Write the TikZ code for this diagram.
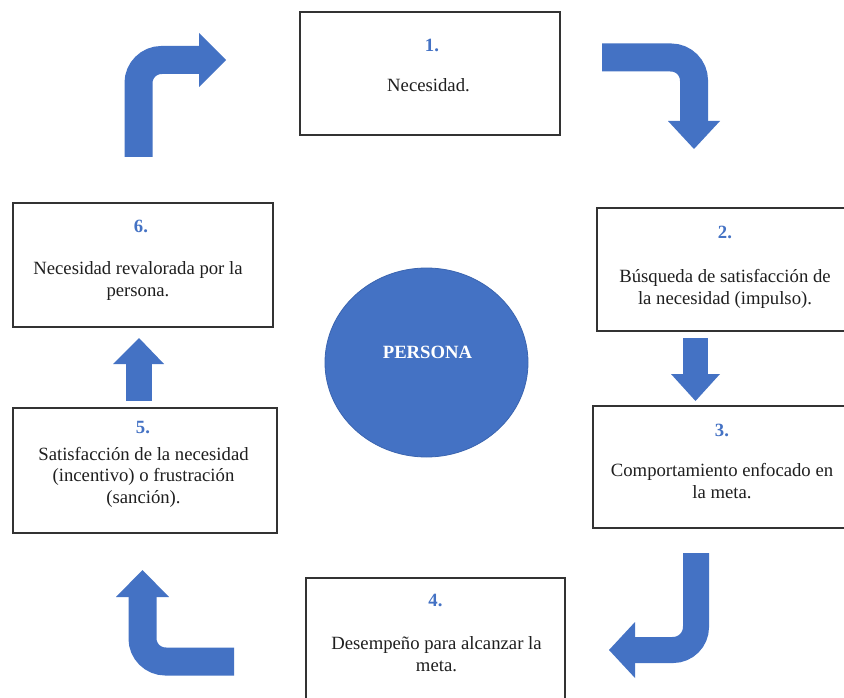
\documentclass[tikz,border=0pt]{standalone}
\usepackage{fontspec}
\setmainfont{Liberation Serif}
\usetikzlibrary{shapes.geometric}
\definecolor{ofblue}{HTML}{4472C4}
\definecolor{edgeblue}{HTML}{3B65B0}
\tikzset{
  stagebox/.style={draw=black!80, line width=1.3pt, rectangle, inner sep=0pt, fill=white},
  numlabel/.style={font=\fontsize{18.7}{21.5}\selectfont\bfseries, text=ofblue, anchor=base, inner sep=0pt},
  bodytext/.style={font=\fontsize{18.7}{21.5}\selectfont, text=black!88, anchor=base, align=center, inner sep=0pt},
  shaft/.style={draw=ofblue, line width=#1, rounded corners=23pt},
  headtip/.style={fill=ofblue, draw=none},
}
\begin{document}
\begin{tikzpicture}[x=1pt,y=-1pt]
\useasboundingbox (0,0) rectangle (844,698);
\clip (0,0) rectangle (844,698);
\fill[white] (0,0) rectangle (844,698);

% boxes
\node[stagebox, minimum width=260pt, minimum height=123pt] (b1) at (430,73.5) {};
\node[stagebox, minimum width=256pt, minimum height=123pt] (b2) at (725,269.5) {};
\node[stagebox, minimum width=260pt, minimum height=122pt] (b3) at (723,467) {};
\node[stagebox, minimum width=259pt, minimum height=124pt] (b4) at (435.5,640) {};
\node[stagebox, minimum width=264pt, minimum height=125pt] (b5) at (145,470.5) {};
\node[stagebox, minimum width=260pt, minimum height=124pt] (b6) at (143,265) {};

% centre
\node[ellipse, fill=ofblue, draw=edgeblue, line width=0.8pt, minimum width=203pt, minimum height=189pt, inner sep=0pt] (p) at (426.5,362.5) {};
\node[font=\fontsize{18.7}{21.5}\selectfont\bfseries, text=white, anchor=base, inner sep=0pt] (pl) at (427.5,358) {PERSONA};

% texts (base anchor = baseline of the last line)
\node[numlabel] (n1) at (432,52) {1.};
\node[bodytext] (t1) at (428.5,92) {Necesidad.};
\node[numlabel] (n2) at (725,238) {2.};
\node[bodytext] (t2) at (725,304) {Búsqueda de satisfacción de\\la necesidad (impulso).};
\node[numlabel] (n3) at (722,436) {3.};
\node[bodytext] (t3) at (722,498) {Comportamiento enfocado en\\la meta.};
\node[numlabel] (n4) at (435.5,606) {4.};
\node[bodytext] (t4) at (436.5,671) {Desempeño para alcanzar la\\meta.};
\node[numlabel] (n5) at (143,433) {5.};
\node[bodytext] (t5) at (143.5,503) {Satisfacción de la necesidad\\(incentivo) o frustración\\(sanción).};
\node[numlabel] (n6) at (141,233) {6.};
\node[bodytext] (t6) at (138,296) {Necesidad revalorada por la\\persona.};

% arrows: 6 -> 1
\coordinate (a61s) at (138.5,157);
\coordinate (a61c) at (138.5,60);
\coordinate (a61e) at (200,60);
\draw[shaft=28pt] (a61s) -- (a61c) -- (a61e);
\fill[headtip] (199,33) -- (226,60) -- (199,87) -- cycle;

% 1 -> 2
\coordinate (a12s) at (602,57.5);
\coordinate (a12c) at (694,57.5);
\coordinate (a12e) at (694,122);
\draw[shaft=28pt] (a12s) -- (a12c) -- (a12e);
\fill[headtip] (668,121) -- (694,149) -- (720,121) -- cycle;

% 2 -> 3
\coordinate (a23s) at (695.5,338);
\coordinate (a23e) at (695.5,375);
\draw[shaft=25pt] (a23s) -- (a23e);
\fill[headtip] (671,374) -- (695.5,401) -- (720,374) -- cycle;

% 3 -> 4
\coordinate (a34s) at (696,553);
\coordinate (a34c) at (696,650);
\coordinate (a34e) at (634,650);
\draw[shaft=26pt] (a34s) -- (a34c) -- (a34e);
\fill[headtip] (635,622) -- (609,650) -- (635,678) -- cycle;

% 4 -> 5
\coordinate (a45s) at (234,661.5);
\coordinate (a45c) at (142.5,661.5);
\coordinate (a45e) at (142.5,596);
\draw[shaft=28pt] (a45s) -- (a45c) -- (a45e);
\fill[headtip] (116,597) -- (142.5,570) -- (169,597) -- cycle;

% 5 -> 6
\coordinate (a56s) at (139,401);
\coordinate (a56e) at (139,363);
\draw[shaft=26pt] (a56s) -- (a56e);
\fill[headtip] (113,364) -- (139,338) -- (164,364) -- cycle;
\end{tikzpicture}
\end{document}
